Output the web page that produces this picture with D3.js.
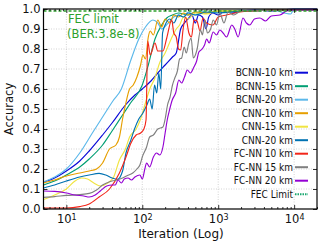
<!DOCTYPE html>
<html>
<head>
<meta charset="utf-8">
<script src="https://d3js.org/d3.v7.min.js"></script>
<style>
body { margin: 0; background: #fff; }
text { font-family: "DejaVu Sans", sans-serif; }
.grid line { stroke: #c8c8c8; stroke-width: 0.8; stroke-dasharray: 1,1.5; }
.axis path { display: none; }
.axis line { stroke: #000; stroke-width: 0.8; }
.axis text { font-size: 11.5px; fill: #111; }
.series { fill: none; stroke-width: 1.15; }
.leg text { font-size: 10px; font-stretch: condensed; fill: #111; }
</style>
</head>
<body>
<script>
// legend / series names and colours
var names = ["BCNN-10 km", "BCNN-15 km", "BCNN-20 km", "CNN-10 km", "CNN-15 km", "CNN-20 km", "FC-NN 10 km", "FC-NN 15 km", "FC-NN 20 km"]
var colors = ["#0a0ad8", "#009e73", "#5cb8ea", "#e69f00", "#f0e442", "#0072b2", "#f2261a", "#808080", "#9400d3"]

var yTicks = [0, 0.1, 0.2, 0.3, 0.4, 0.5, 0.6, 0.7, 0.8, 0.9, 1.0]
var xTicks = [10, 100, 1000, 10000]
var fecLimit = 0.99

// [iteration, accuracy]
var bcnn10 = [[5,.135],[7,.155],[10,.19],[15,.24],[20,.29],[30,.37],[40,.43],[60,.52],[80,.57],[100,.6],[130,.64],[160,.68],[200,.72],[250,.76],[280,.78],[320,.9],[360,.93],[400,.95],[450,.97],[500,.93],[550,.97],[620,.96],[690,.90],[750,.96],[850,.98],[1000,.97],[1200,.99],[1500,.98],[2000,.99],[3000,.995],[5000,.99],[10000,1],[20000,1]]
var bcnn15 = [[5,.12],[7,.14],[10,.17],[15,.21],[20,.25],[30,.32],[40,.39],[55,.47],[70,.53],[100,.62],[120,.72],[147,.85],[180,.92],[210,.955],[250,.97],[300,.98],[400,.97],[500,.985],[700,.98],[1000,.99],[2000,.99],[5000,.995],[20000,.995]]
var bcnn20 = [[5,.135],[7,.16],[10,.2],[15,.28],[22,.38],[30,.46],[41,.54],[53,.6],[70,.74],[90,.85],[110,.91],[138,.945],[160,.93],[180,.9],[220,.93],[260,.96],[300,.97],[350,.96],[400,.985],[500,.97],[600,.99],[700,.98],[800,.99],[1000,.985],[1500,.99],[2000,.995],[3000,.99],[5000,.995],[9000,.975],[10000,1],[20000,.995]]
var cnn10 = [[5,.13],[7,.145],[10,.165],[15,.18],[20,.19],[25,.20],[30,.23],[37,.30],[45,.32],[50,.36],[55,.45],[60,.52],[68,.6],[76,.62],[85,.66],[95,.72],[102,.77],[110,.75],[120,.86],[127,.89],[140,.87],[160,.945],[180,.91],[200,.95],[230,.93],[260,.97],[300,.96],[350,.98],[400,.97],[500,.985],[700,.98],[1000,.99],[2000,.99],[5000,.995],[20000,.995]]
var cnn15 = [[5,.047],[7,.07],[10,.10],[13,.14],[16,.155],[19,.15],[23,.13],[28,.115],[35,.13],[42,.16],[50,.245],[60,.30],[68,.36],[83,.40],[95,.45],[110,.53],[127,.605],[145,.65],[171,.735],[200,.78],[240,.85],[280,.9],[310,.92],[350,.96],[400,.95],[500,.98],[700,.975],[1000,.99],[2000,.99],[5000,.995],[20000,.995]]
var cnn20 = [[5,.105],[7,.12],[10,.14],[15,.16],[20,.17],[27,.178],[33,.17],[40,.155],[47,.148],[55,.19],[61,.28],[70,.34],[79,.40],[90,.45],[102,.48],[115,.52],[125,.55],[135,.50],[145,.62],[155,.58],[165,.68],[175,.60],[185,.88],[200,.92],[230,.95],[260,.93],[300,.97],[350,.96],[400,.98],[500,.97],[700,.985],[1000,.98],[2000,.99],[5000,.995],[20000,.995]]
var fcnn10 = [[5,.005],[10,.005],[15,.012],[20,.025],[27,.06],[37,.10],[50,.18],[61,.26],[71,.33],[83,.37],[95,.38],[105,.40],[112,.445],[118,.84],[127,.77],[147,.83],[160,.79],[187,.79],[210,.855],[244,.945],[260,.88],[280,.86],[300,.80],[320,.795],[345,.90],[372,.96],[411,.88],[445,.86],[479,.945],[525,.94],[575,.89],[631,.955],[700,.93],[851,.92],[1000,.96],[1288,.97],[1932,.985],[3000,.99],[5000,.995],[20000,.995]]
var fcnn15 = [[5,.058],[7,.062],[10,.068],[15,.072],[20,.078],[25,.095],[30,.12],[34,.13],[40,.14],[46,.145],[55,.155],[62,.165],[75,.18],[85,.2],[93,.22],[100,.26],[114,.31],[125,.36],[140,.37],[160,.40],[187,.41],[200,.45],[215,.52],[232,.56],[250,.62],[268,.655],[290,.69],[310,.75],[330,.755],[356,.81],[380,.78],[410,.83],[440,.855],[470,.755],[528,.80],[585,.895],[620,.87],[667,.945],[720,.88],[794,.90],[860,.945],[950,.92],[1050,.98],[1190,.93],[1350,.985],[1600,.97],[2000,.99],[3000,.99],[5000,.995],[20000,.995]]
var fcnn20 = [[5,.09],[7,.088],[10,.08],[13,.07],[17,.065],[20,.06],[24,.07],[28,.09],[34,.115],[40,.12],[44,.12],[48,.145],[53,.13],[58,.15],[65,.155],[72,.145],[80,.16],[93,.17],[100,.15],[108,.2],[114,.23],[125,.21],[140,.26],[154,.28],[170,.27],[187,.31],[200,.38],[213,.445],[230,.50],[248,.545],[275,.58],[303,.645],[330,.63],[360,.66],[392,.695],[430,.68],[479,.71],[520,.74],[556,.785],[614,.80],[660,.82],[704,.85],[760,.83],[860,.885],[950,.87],[1050,.895],[1160,.88],[1288,.86],[1510,.92],[1650,.9],[1830,.86],[2120,.955],[2350,.93],[2600,.92],[3000,.95],[3540,.955],[4200,.94],[5000,.965],[6500,.97],[8000,.99],[10000,.995],[20000,.995]]

var series = [bcnn10, bcnn15, bcnn20, cnn10, cnn15, cnn20, fcnn10, fcnn15, fcnn20]

var W = 327, H = 246
var pl = 43.5, pr = 317, pt = 9, pb = 209

var svg = d3.select("body").append("svg")
  .attr("width", W)
  .attr("height", H)

var x = d3.scaleLog().domain([5, 20000]).range([pl, pr])
var y = d3.scaleLinear().domain([0, 1]).range([pb, pt])

// grid
var grid = svg.append("g").attr("class", "grid")
grid.selectAll(".gx").data(xTicks).enter().append("line")
  .attr("x1", d => x(d)).attr("x2", d => x(d))
  .attr("y1", pt).attr("y2", pb)
grid.selectAll(".gy").data(yTicks.slice(1, -1)).enter().append("line")
  .attr("x1", pl).attr("x2", pr)
  .attr("y1", d => y(d)).attr("y2", d => y(d))

svg.append("clipPath").attr("id", "clip")
  .append("rect").attr("x", pl).attr("y", pt - 2)
  .attr("width", pr - pl).attr("height", pb - pt + 2)

var line = d3.line()
  .x(d => x(d[0]))
  .y(d => y(d[1]))
  .curve(d3.curveMonotoneX)

var plot = svg.append("g").attr("clip-path", "url(#clip)")

plot.selectAll(".series").data(series).enter().append("path")
  .attr("class", "series")
  .attr("d", line)
  .attr("stroke", (d, i) => colors[i])

plot.append("line")
  .attr("x1", pl).attr("x2", pr)
  .attr("y1", y(fecLimit)).attr("y2", y(fecLimit))
  .attr("stroke", "#2ca02c")
  .attr("stroke-width", 1.5)
  .attr("stroke-dasharray", "3,2")

// axes, ticks pointing inwards
var minor = []
for (var e = 0; e <= 4; e++) {
  for (var m = 2; m <= 9; m++) {
    var v = m * Math.pow(10, e)
    if (v >= 5 && v <= 20000) minor.push(v)
  }
}

svg.append("g").attr("class", "axis")
  .attr("transform", "translate(" + pl + ",0)")
  .call(d3.axisLeft(y).tickValues(yTicks).tickSize(-4).tickPadding(3).tickFormat(d3.format(".1f")))

svg.append("g").attr("class", "axis")
  .attr("transform", "translate(" + pr + ",0)")
  .call(d3.axisRight(y).tickValues(yTicks).tickSize(-4).tickFormat(""))

var xa = svg.append("g").attr("class", "axis")
  .attr("transform", "translate(0," + pb + ")")
  .call(d3.axisBottom(x).tickValues(xTicks).tickSize(-4).tickPadding(6).tickFormat(""))

xa.selectAll(".tick text").each(function(d) {
  var t = d3.select(this)
  t.append("tspan").text("10")
  t.append("tspan").attr("dy", "-0.45em").style("font-size", "8px").text(Math.round(Math.log10(d)))
})

svg.append("g").attr("class", "axis")
  .attr("transform", "translate(0," + pb + ")")
  .call(d3.axisBottom(x).tickValues(minor).tickSize(-2).tickFormat(""))

svg.append("g").attr("class", "axis")
  .attr("transform", "translate(0," + pt + ")")
  .call(d3.axisTop(x).tickValues(xTicks).tickSize(-4).tickFormat(""))

svg.append("g").attr("class", "axis")
  .attr("transform", "translate(0," + pt + ")")
  .call(d3.axisTop(x).tickValues(minor).tickSize(-2).tickFormat(""))

svg.append("rect")
  .attr("x", pl).attr("y", pt)
  .attr("width", pr - pl).attr("height", pb - pt)
  .attr("fill", "none").attr("stroke", "#000").attr("stroke-width", 1.2)

// FEC annotation
svg.append("text")
  .attr("x", 68).attr("y", 23)
  .attr("fill", "#2ca02c").style("font-size", "11.5px")
  .text("FEC limit")
svg.append("text")
  .attr("x", 67).attr("y", 38)
  .attr("fill", "#2ca02c").style("font-size", "11.5px")
  .text("(BER:3.8e-8)")

// axis labels
svg.append("text")
  .attr("x", 181).attr("y", 238)
  .attr("text-anchor", "middle").style("font-size", "12px").attr("fill", "#111")
  .text("Iteration (Log)")

svg.append("text")
  .attr("transform", "translate(13," + ((pt + pb) / 2) + ") rotate(-90)")
  .attr("text-anchor", "middle").style("font-size", "11.5px").attr("fill", "#111")
  .text("Accuracy")

// legend
var legNames = names.concat(["FEC Limit"])
var legColors = colors.concat(["#1aa870"])
var leg = svg.append("g").attr("class", "leg")
legNames.forEach(function(n, i) {
  var ly = 72.7 + i * 13.5
  leg.append("line")
    .attr("x1", 295).attr("x2", 308)
    .attr("y1", ly).attr("y2", ly)
    .attr("stroke", legColors[i])
    .attr("stroke-width", 2)
    .attr("stroke-dasharray", i == 9 ? "1.5,1" : null)
  leg.append("text")
    .attr("x", 293).attr("y", ly + 3.5)
    .attr("text-anchor", "end")
    .text(n)
})
</script>
</body>
</html>
